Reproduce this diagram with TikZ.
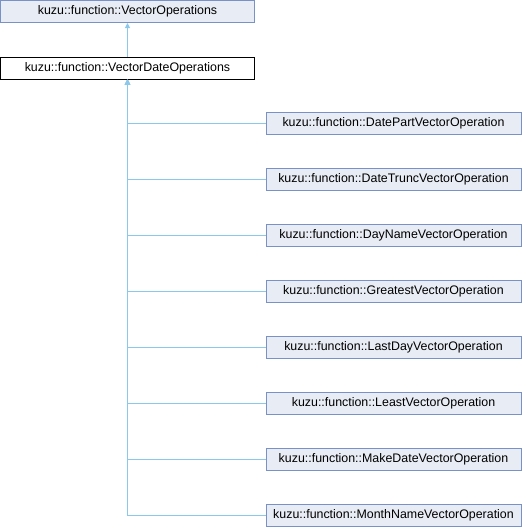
\documentclass[tikz,border=0pt]{standalone}
\usepackage{fontspec}
\setmainfont{Liberation Sans}
\usetikzlibrary{arrows.meta}
\definecolor{boxfill}{RGB}{232,236,244}
\definecolor{boxdraw}{RGB}{122,145,199}
\definecolor{linkcol}{RGB}{140,200,234}
\begin{document}
\begin{tikzpicture}[x=1pt,y=-1pt,
  cls/.style={draw=boxdraw,fill=boxfill,line width=1pt,minimum height=22pt,inner sep=0pt,font=\fontsize{12.4}{14}\selectfont},
  cur/.style={draw=black,fill=white,line width=1pt,minimum height=22pt,inner sep=0pt,font=\fontsize{12.4}{14}\selectfont},
  link/.style={draw=linkcol,line width=1pt,-{Triangle[length=5pt,width=5pt]}}]
\useasboundingbox (0,0) rectangle (522,528);
\node[cls,minimum width=254pt] (base) at (127.5,11.5) {kuzu::function::VectorOperations};
\node[cur,minimum width=254pt] (vdo) at (127.5,68) {kuzu::function::VectorDateOperations};
\node[cls,minimum width=255pt] (c1) at (393.5,123.5) {kuzu::function::DatePartVectorOperation};
\node[cls,minimum width=255pt] (c2) at (393.5,179.5) {kuzu::function::DateTruncVectorOperation};
\node[cls,minimum width=255pt] (c3) at (393.5,235.5) {kuzu::function::DayNameVectorOperation};
\node[cls,minimum width=255pt] (c4) at (393.5,291.5) {kuzu::function::GreatestVectorOperation};
\node[cls,minimum width=255pt] (c5) at (393.5,347.5) {kuzu::function::LastDayVectorOperation};
\node[cls,minimum width=255pt] (c6) at (393.5,403.5) {kuzu::function::LeastVectorOperation};
\node[cls,minimum width=255pt] (c7) at (393.5,459.5) {kuzu::function::MakeDateVectorOperation};
\node[cls,minimum width=255pt] (c8) at (393.5,515.5) {kuzu::function::MonthNameVectorOperation};
\draw[link] (vdo.north) -- (base.south);
\foreach \c in {c1,c2,c3,c4,c5,c6,c7,c8}{
  \draw[link] (\c.west) -| (vdo.south);
}
\end{tikzpicture}
\end{document}
